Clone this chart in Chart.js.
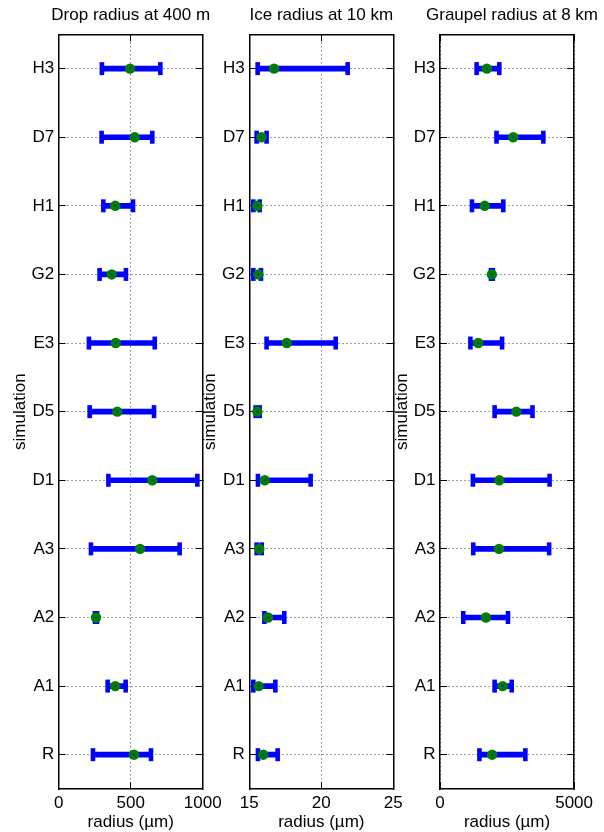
<!DOCTYPE html>
<html>
<head>
<meta charset="utf-8">
<script src="https://cdn.jsdelivr.net/npm/chart.js@4.4.1/dist/chart.umd.min.js"></script>
<style>
    html, body { margin: 0; padding: 0; background: #fff; overflow: hidden; }
    canvas { position: absolute; left: 0; top: 0; }
    .panel-title {
        position: absolute;
        top: 5px;
        width: 300px;
        text-align: center;
        font: 17px/20px 'Liberation Sans', Arial, Helvetica, sans-serif;
        color: #000;
        white-space: nowrap;
    }
</style>
</head>
<body>
<canvas id="dropChart" width="604" height="832"></canvas>
<canvas id="iceChart" width="604" height="832"></canvas>
<canvas id="graupelChart" width="604" height="832"></canvas>
<script>
// simulations, listed top to bottom as in the figure
const simulations = ['H3', 'D7', 'H1', 'G2', 'E3', 'D5', 'D1', 'A3', 'A2', 'A1', 'R'];

// drop radius at 400 m (um)
const dropLow = [300, 298, 310, 284, 210, 215, 345, 224, 252, 340, 238];
const dropMid = [495, 528, 393, 368, 396, 407, 650, 565, 259, 393, 523];
const dropHigh = [706, 650, 516, 467, 667, 662, 963, 840, 266, 465, 641];

// ice radius at 10 km (um)
const iceLow = [15.58, 15.51, 15.28, 15.28, 16.2, 15.44, 15.6, 15.51, 16.05, 15.28, 15.6];
const iceMid = [16.72, 15.84, 15.56, 15.63, 17.6, 15.56, 16.07, 15.7, 16.3, 15.65, 15.97];
const iceHigh = [21.83, 16.2, 15.72, 15.81, 21.0, 15.72, 19.26, 15.86, 17.43, 16.81, 16.97];

// graupel radius at 8 km (um)
const graupelLow = [1366, 2106, 1192, 1900, 1134, 2037, 1227, 1240, 868, 2037, 1470];
const graupelMid = [1748, 2731, 1667, 1933, 1424, 2847, 2211, 2200, 1713, 2338, 1944];
const graupelHigh = [2211, 3854, 2361, 1970, 2315, 3449, 4086, 4070, 2535, 2673, 3183];

const panelTitles = ['Drop radius at 400 m', 'Ice radius at 10 km', 'Graupel radius at 8 km'];
const xLimits = [[0, 1000, 500], [15, 25, 5], [0, 5000, 5000]];

const PAGE_W = 604;
const PAGE_H = 832;
const PLOT_TOP = 34.3;
const PLOT_BOTTOM = 789;

Chart.defaults.font.family = "'Liberation Sans', Arial, Helvetica, sans-serif";
Chart.defaults.font.size = 17;
Chart.defaults.color = '#000';

function buildPanel(canvasId, panel) {
    const dotted = {
        color: 'rgba(0,0,0,0.75)',
        lineWidth: 1,
        tickLength: -7,
        tickColor: '#000',
        tickWidth: 1,
        tickBorderDash: []
    };
    // dash of the grid lines lives in the border options in v4
    const frame = { color: '#000', width: 1.5, dash: [1, 3] };
    const [xMin, xMax, xStep] = panel.limits;

    // panel title as a plain text label centred over the plot box
    const title = document.createElement('div');
    title.className = 'panel-title';
    title.textContent = panel.title;
    title.style.left = ((panel.left + panel.right) / 2 - 150) + 'px';
    document.body.appendChild(title);

    const marker = (values, extra, order) => Object.assign({
        type: 'line',
        data: values,
        showLine: false,
        clip: false,
        xAxisID: 'x',
        yAxisID: 'y',
        order: order
    }, extra);

    const capStyle = {
        pointStyle: 'line',
        pointRotation: 90,
        pointRadius: 6.5,
        pointBorderWidth: 4.6,
        pointBorderColor: '#0000ff'
    };

    return new Chart(document.getElementById(canvasId), {
        type: 'bar',
        data: {
            labels: simulations,
            datasets: [
                {
                    // the spread, drawn as a floating bar
                    data: panel.low.map((v, i) => [v, panel.high[i]]),
                    backgroundColor: '#0000ff',
                    borderWidth: 0,
                    barThickness: 5,
                    xAxisID: 'x',
                    yAxisID: 'y',
                    order: 4
                },
                marker(panel.low, capStyle, 3),
                marker(panel.high, capStyle, 3),
                marker(panel.mid, { pointStyle: 'circle', pointRadius: 5.2, pointBorderWidth: 0, pointBackgroundColor: '#008000' }, 2),
                marker(panel.mid, { pointStyle: 'circle', pointRadius: 1, pointBorderWidth: 0, pointBackgroundColor: '#0000ff' }, 1)
            ]
        },
        options: {
            indexAxis: 'y',
            responsive: false,
            animation: false,
            events: [],
            layout: { padding: { left: panel.padLeft, right: PAGE_W - panel.right, top: 0, bottom: 0 } },
            plugins: { legend: { display: false }, title: { display: false }, tooltip: { enabled: false } },
            scales: {
                x: {
                    type: 'linear', axis: 'x', position: 'bottom',
                    min: xMin, max: xMax,
                    ticks: { stepSize: xStep, padding: 11, maxRotation: 0, autoSkip: false, callback: v => String(v) },
                    grid: dotted,
                    border: frame,
                    title: { display: true, text: 'radius (\u00b5m)', padding: { top: 0, bottom: -1 } },
                    afterFit: s => { s.height = PAGE_H - PLOT_BOTTOM; }
                },
                xTop: {
                    type: 'linear', axis: 'x', position: 'top',
                    min: xMin, max: xMax,
                    ticks: { stepSize: xStep, display: false },
                    grid: { drawOnChartArea: false, tickLength: -7, tickColor: '#000', tickWidth: 1 },
                    border: frame,
                    afterFit: s => { s.height = PLOT_TOP; }
                },
                y: {
                    type: 'category', axis: 'y', position: 'left',
                    offset: true,
                    ticks: { padding: 11.5, autoSkip: false },
                    grid: Object.assign({}, dotted, { offset: false }),
                    border: frame,
                    title: { display: true, text: 'simulation', padding: { top: panel.labelPad, bottom: 0 } },
                    afterFit: s => { s.width = panel.left - panel.padLeft; }
                },
                yRight: {
                    type: 'category', axis: 'y', position: 'right',
                    offset: true,
                    ticks: { display: false },
                    grid: { drawOnChartArea: false, offset: false, tickLength: -7, tickColor: '#000', tickWidth: 1 },
                    border: frame,
                    afterFit: s => { s.width = 0; }
                }
            }
        }
    });
}

buildPanel('dropChart', {
    title: panelTitles[0], limits: xLimits[0],
    low: dropLow, mid: dropMid, high: dropHigh,
    padLeft: 0, left: 58.7, right: 202.7, labelPad: 10.6
});
buildPanel('iceChart', {
    title: panelTitles[1], limits: xLimits[1],
    low: iceLow, mid: iceMid, high: iceHigh,
    padLeft: 200, left: 249.3, right: 393.3, labelPad: 0.6
});
buildPanel('graupelChart', {
    title: panelTitles[2], limits: xLimits[2],
    low: graupelLow, mid: graupelMid, high: graupelHigh,
    padLeft: 390, left: 440, right: 584, labelPad: 2.2
});
</script>
</body>
</html>
